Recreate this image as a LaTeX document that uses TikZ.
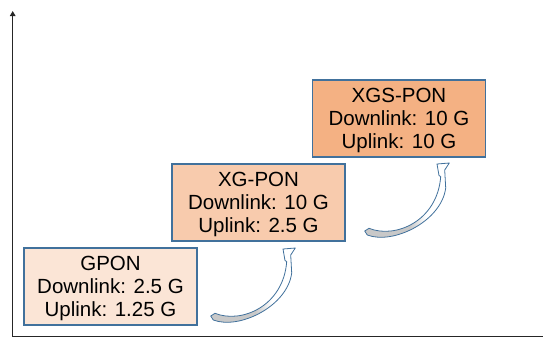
\documentclass[tikz,border=0pt]{standalone}
\usepackage{fontspec}
\setmainfont{Liberation Sans}
\usetikzlibrary{arrows.meta}
\definecolor{edgeblue}{HTML}{41719C}
\definecolor{fillA}{HTML}{FBE5D6}
\definecolor{fillB}{HTML}{F8CBAD}
\definecolor{fillC}{HTML}{F4B183}
\definecolor{axisc}{HTML}{262626}
\definecolor{tailgray}{HTML}{C8C8C8}
\tikzset{
  pon/.style={draw=edgeblue, line width=1.4pt, minimum width=173pt, minimum height=77pt,
    inner sep=0pt},
  pontext/.style={align=center, inner sep=0pt, font=\fontsize{20.5}{23.2}\selectfont, yshift=-2pt},
  axisline/.style={draw=axisc, line width=1.3pt},
  curvarrow/.pic={
    \begin{scope}
      \clip (1.8,0) .. controls (28,10) and (76,-14) .. (80.2,-47) -- (79.2,-65) -- (83.8,-72) -- (71.5,-71) -- (73.5,-59.5) -- (75.2,-58.5) .. controls (72,-14) and (30,4) .. (3.5,-6.7) -- (-0.8,-4) -- cycle;
      \fill[white] (-5,-80) rectangle (90,20);
      \fill[tailgray] (-5,-80) rectangle (44,20);
      \shade[left color=tailgray, right color=white] (44,-80) rectangle (60,20);
    \end{scope}
    \draw[edgeblue, line width=0.8pt, line join=round] (1.8,0) .. controls (28,10) and (76,-14) .. (80.2,-47) -- (79.2,-65) -- (83.8,-72) -- (71.5,-71) -- (73.5,-59.5) -- (75.2,-58.5) .. controls (72,-14) and (30,4) .. (3.5,-6.7) -- (-0.8,-4) -- cycle;
  }
}
\begin{document}
\begin{tikzpicture}[x=1pt,y=-1pt]
\useasboundingbox (0,0) rectangle (543,338);
\fill[white] (0,0) rectangle (543,338);
% axes
\coordinate (o) at (12.7,336.5);
\coordinate (ytop) at (12.7,11);
\coordinate (xend) at (543,336.5);
\draw[axisline,-{Triangle[length=5pt,width=5.5pt]}] (o) -- (ytop);
\draw[axisline] (o) -- (xend);
% boxes
\node[pon, fill=fillA] (gpon) at (110.5,286.5) {};
\node[pontext] (gpontext) at (gpon.center) {GPON\\Downlink: 2.5 G\\Uplink: 1.25 G};
\node[pon, fill=fillB] (xgpon) at (258.5,202.5) {};
\node[pontext] (xgpontext) at (xgpon.center) {XG-PON\\Downlink: 10 G\\Uplink: 2.5 G};
\node[pon, fill=fillC] (xgspon) at (399,118.5) {};
\node[pontext] (xgspontext) at (xgspon.center) {XGS-PON\\Downlink: 10 G\\Uplink: 10 G};
% curved arrows
\coordinate (tailA) at (211.5,320);
\coordinate (tailB) at (365.5,235);
\pic at (tailA) {curvarrow};
\pic at (tailB) {curvarrow};
\end{tikzpicture}
\end{document}
